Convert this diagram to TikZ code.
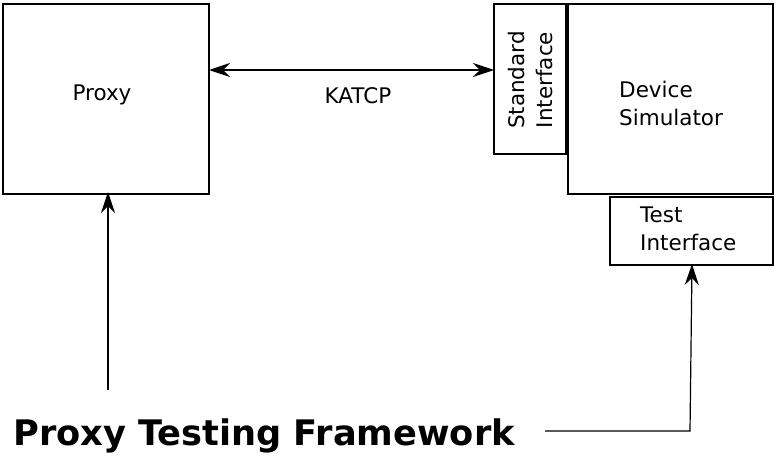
\documentclass[tikz,border=0pt]{standalone}
\usepackage{fontspec}
\setmainfont{DejaVu Sans}
\usetikzlibrary{arrows.meta}
\begin{document}
\begin{tikzpicture}[x=1pt,y=-1pt,
  box/.style={draw,line width=1.1pt,inner sep=0pt,outer sep=0pt,anchor=north west},
  lbl/.style={font=\fontsize{21.5}{28}\selectfont,inner sep=0pt},
  tip/.style={Stealth[length=21pt,width=14pt,inset=7pt]},
  conn/.style={line width=1.2pt,-{Stealth[length=21pt,width=14pt,inset=7pt]}},
  conn2/.style={line width=1.2pt,{Stealth[length=21pt,width=14pt,inset=7pt]}-{Stealth[length=21pt,width=14pt,inset=7pt]}}]
\useasboundingbox (0,0) rectangle (775,455);
\node[box,minimum width=206pt,minimum height=190pt] (proxy) at (3,4) {};
\node[lbl] (proxylbl) at (102,95) {Proxy};
\node[box,minimum width=72pt,minimum height=150pt] (std) at (494,4) {};
\node[lbl,rotate=90,align=center] (stdlbl) at (530,80) {Standard\\Interface};
\node[box,minimum width=205pt,minimum height=190pt] (sim) at (568,4) {};
\node[lbl,align=left,anchor=west] (simlbl) at (619,103) {Device\\Simulator};
\node[box,minimum width=163pt,minimum height=68pt] (test) at (610,197) {};
\node[lbl,align=left,anchor=west] (testlbl) at (640,228.5) {Test\\Interface};
\node[font=\bfseries\fontsize{35.2}{40}\selectfont,inner sep=0pt,anchor=west] (title) at (13,436) {Proxy Testing Framework};
\node[lbl] (katcp) at (358,95.5) {KATCP};
\coordinate (pa) at (108,390);
\coordinate (pb) at (108,192);
\coordinate (ta) at (545,431);
\coordinate (tc) at (690,431);
\coordinate (tb) at (692,264);
\draw[conn2] (proxy.east |- 0,70) -- (std.west |- 0,70);
\draw[conn] (pa) -- (pb);
\draw[conn] (ta) -- (tc) -- (tb);
\end{tikzpicture}
\end{document}
